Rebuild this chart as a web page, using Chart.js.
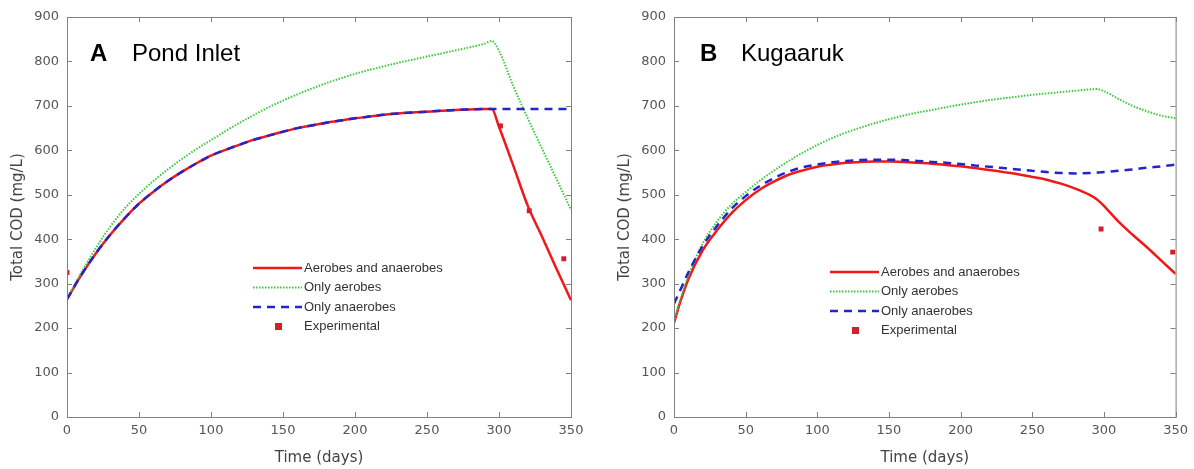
<!DOCTYPE html>
<html>
<head>
<meta charset="utf-8">
<script src="https://cdn.jsdelivr.net/npm/chart.js@4.4.1/dist/chart.umd.min.js"></script>
<style>
  body { margin: 0; background: #fff; }
  .panel { position: absolute; top: 0; width: 597px; height: 469px; }
</style>
</head>
<body>
<div class="panel" style="left:0"><canvas id="chartA" width="597" height="469"></canvas></div>
<div class="panel" style="left:597px"><canvas id="chartB" width="597" height="469"></canvas></div>
<script>
// time grid (days) shared by the model curves
const days = [0, 5, 10, 20, 30, 40, 50, 60, 70, 80, 90, 100, 110, 120, 130, 140, 150, 160, 170, 180, 190,
              200, 210, 220, 230, 240, 250, 260, 270, 280, 290, 295, 300, 310, 320, 330, 340, 350];

// A - Pond Inlet
const aerAnaA  = [265, 293, 320, 368, 410, 447, 480, 507, 531, 552, 571, 588, 601, 613, 624, 633, 642, 650, 656, 662, 667,
                  672, 676, 680, 683, 685, 687, 689, 691, 692, 693, 693, 653, 565, 475, 405, 333, 263];
const onlyAerA = [265, 296, 325, 380, 428, 469, 502, 531, 557, 581, 603, 623, 643, 662, 680, 697, 712, 726, 739, 751, 762,
                  772, 781, 789, 797, 804, 811, 818, 825, 832, 840, 846, 824, 744, 672, 603, 535, 466];
const onlyAnaA = [265, 293, 320, 368, 410, 447, 480, 507, 531, 552, 571, 588, 601, 613, 624, 633, 642, 650, 656, 662, 667,
                  672, 676, 680, 683, 685, 687, 689, 691, 692, 693, 693, 693, 693, 693, 693, 693, 693];
const expDaysA = [0, 301, 321, 345];
const expCodA  = [325, 655, 464, 356];

// B - Kugaaruk
const aerAnaB  = [212, 265, 310, 375, 420, 458, 488, 512, 530, 545, 555, 563, 568, 572, 574, 575, 575, 574, 572, 570, 567,
                  564, 560, 556, 551, 546, 540, 534, 525, 514, 500, 490, 475, 440, 410, 382, 352, 322];
const onlyAerB = [215, 270, 318, 390, 440, 478, 506, 532, 555, 576, 595, 612, 627, 640, 651, 661, 670, 678, 685, 691, 697,
                  703, 708, 713, 717, 721, 725, 728, 731, 734, 737, 738, 733, 716, 700, 688, 678, 672];
const onlyAnaB = [255, 290, 325, 385, 430, 468, 497, 520, 538, 552, 562, 568, 573, 576, 578, 579, 579, 578, 576, 574, 572,
                  569, 566, 563, 560, 557, 554, 551, 549, 548, 549, 550, 551, 554, 557, 561, 564, 568];
const expDaysB = [298, 348];
const expCodB  = [423, 371];

const labels = ['Aerobes and anaerobes', 'Only aerobes', 'Only anaerobes', 'Experimental'];

function pts(xs, ys) {
    return xs.map((x, i) => ({ x: x, y: ys[i] }));
}

// MATLAB style box with inward ticks on all four sides
const boxPlugin = {
    id: 'boxPlugin',
    afterDatasetsDraw(chart) {
        const ctx = chart.ctx;
        const a = chart.chartArea;
        const xs = chart.scales.x, ys = chart.scales.y;
        ctx.save();
        ctx.strokeStyle = '#808080';
        ctx.lineWidth = 1;
        ctx.strokeRect(a.left + 0.5, a.top + 0.5, a.right - a.left, a.bottom - a.top);
        ctx.beginPath();
        xs.ticks.forEach(t => {
            const px = Math.round(xs.getPixelForValue(t.value)) + 0.5;
            ctx.moveTo(px, a.bottom); ctx.lineTo(px, a.bottom - 5);
            ctx.moveTo(px, a.top); ctx.lineTo(px, a.top + 5);
        });
        ys.ticks.forEach(t => {
            const py = Math.round(ys.getPixelForValue(t.value)) + 0.5;
            ctx.moveTo(a.left, py); ctx.lineTo(a.left + 5, py);
            ctx.moveTo(a.right, py); ctx.lineTo(a.right - 5, py);
        });
        ctx.stroke();
        ctx.restore();
    }
};

// panel letter + site name, and the legend inside the plot
const annotPlugin = {
    id: 'annot',
    afterDraw(chart, args, opts) {
        const ctx = chart.ctx;
        ctx.save();
        ctx.fillStyle = '#000';
        ctx.textBaseline = 'alphabetic';
        ctx.font = 'bold 24px "Liberation Sans", Arial';
        ctx.fillText(opts.letter, opts.lx, 61);
        ctx.font = '24px "Liberation Sans", Arial';
        ctx.fillText(opts.name, opts.nx, 61);

        ctx.font = '13px "Liberation Sans", Arial';
        ctx.textBaseline = 'middle';
        chart.data.datasets.forEach((ds, i) => {
            const y = opts.legY + i * 19.5;
            const x0 = opts.legX;
            if (ds.showLine === false) {
                ctx.fillStyle = ds.backgroundColor;
                ctx.fillRect(x0 + 22, y - 3.5, 7, 7);
            } else {
                ctx.strokeStyle = ds.borderColor;
                ctx.lineWidth = ds.borderWidth;
                ctx.setLineDash(ds.borderDash || []);
                ctx.beginPath();
                ctx.moveTo(x0, y); ctx.lineTo(x0 + 49, y);
                ctx.stroke();
                ctx.setLineDash([]);
            }
            ctx.fillStyle = '#333';
            ctx.fillText(ds.label, x0 + 51, y);
        });
        ctx.restore();
    }
};

function makeChart(id, data, cfg) {
    const ctx = document.getElementById(id).getContext('2d');
    return new Chart(ctx, {
        type: 'line',
        data: {
            datasets: [
                { label: labels[0], data: pts(days, data.aerAna), order: 3, borderColor: '#f01818', borderWidth: 2.5, pointRadius: 0, cubicInterpolationMode: 'monotone' },
                { label: labels[1], data: pts(days, data.onlyAer), order: 2, borderColor: '#3cc83c', borderWidth: 2, borderDash: [1.5, 1.5], pointRadius: 0, cubicInterpolationMode: 'monotone' },
                { label: labels[2], data: pts(days, data.onlyAna), order: 1, borderColor: '#2424c8', borderWidth: 2.5, borderDash: [8, 6], pointRadius: 0, cubicInterpolationMode: 'monotone' },
                { label: labels[3], data: pts(data.expDays, data.expCod), order: 0, showLine: false, pointStyle: 'rect', pointRadius: 3.5, backgroundColor: '#d81c2c', borderColor: '#d81c2c', borderWidth: 0 }
            ]
        },
        options: {
            responsive: false,
            animation: false,
            devicePixelRatio: 1,
            layout: { padding: { left: 0, top: 17, right: cfg.padRight, bottom: 0 } },
            plugins: {
                legend: { display: false },
                tooltip: { enabled: false },
                annot: cfg.annot
            },
            scales: {
                x: {
                    type: 'linear', min: 0, max: 350,
                    ticks: { stepSize: 50, color: '#555', padding: 6, font: { family: 'DejaVu Sans', size: 13 } },
                    grid: { display: false, drawTicks: false },
                    border: { display: false },
                    title: { display: true, text: 'Time (days)', color: '#444', font: { family: 'DejaVu Sans', size: 15 }, padding: { top: 0, bottom: 2 } },
                    afterFit(scale) { scale.height = 52; }
                },
                y: {
                    min: 0, max: 900,
                    ticks: { stepSize: 100, color: '#555', padding: 8, font: { family: 'DejaVu Sans', size: 13 } },
                    grid: { display: false, drawTicks: false },
                    border: { display: false },
                    title: { display: true, text: 'Total COD (mg/L)', color: '#444', font: { family: 'DejaVu Sans', size: 15 }, padding: { top: cfg.titlePad, bottom: 0 } },
                    afterFit(scale) { scale.width = cfg.yWidth; }
                }
            }
        },
        plugins: [boxPlugin, annotPlugin]
    });
}

makeChart('chartA',
    { aerAna: aerAnaA, onlyAer: onlyAerA, onlyAna: onlyAnaA, expDays: expDaysA, expCod: expCodA },
    { padRight: 26, yWidth: 67, titlePad: 9, annot: { letter: 'A', lx: 90, name: 'Pond Inlet', nx: 132, legX: 253, legY: 268 } });

makeChart('chartB',
    { aerAna: aerAnaB, onlyAer: onlyAerB, onlyAna: onlyAnaB, expDays: expDaysB, expCod: expCodB },
    { padRight: 16, yWidth: 77, titlePad: 19, annot: { letter: 'B', lx: 103, name: 'Kugaaruk', nx: 144, legX: 233, legY: 272 } });
</script>
</body>
</html>
